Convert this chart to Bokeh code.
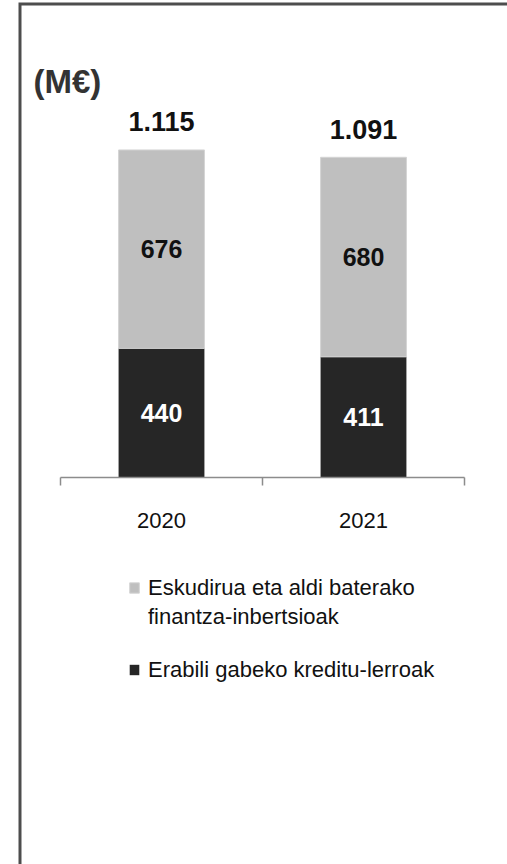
from bokeh.plotting import figure
from bokeh.models import (Range1d, LinearAxis, FixedTicker, Legend, LegendItem,
                          Label, ColumnDataSource)
from bokeh.core.properties import value
from bokeh.embed import file_html
from bokeh.resources import INLINE

# ---- data ----
years = ["2020", "2021"]
credit_lines = [440, 411]          # Erabili gabeko kreditu-lerroak
cash_investments = [676, 680]      # Eskudirua eta aldi baterako finantza-inbertsioak
total_labels = ["1.115", "1.091"]
series_names = ["Eskudirua eta aldi baterako", "finantza-inbertsioak",
                "Erabili gabeko kreditu-lerroak"]
unit_label = "(M€)"

# ---- layout (canvas pixels) ----
W, H = 507, 864
X0 = 60        # canvas x of the first category boundary
CAT_W = 202    # pixels per category
Y0 = 477       # canvas y of value 0
K = 0.2935     # pixels per M€

FONT = "Liberation Sans"
DARK = "#262626"
LIGHT = "#bfbfbf"
AXIS = "#8c8c8c"
TXT = "#111111"


def dx(px):
    return (px - X0) / CAT_W


def dy(py):
    return (Y0 - py) / K


p = figure(width=W, height=H, output_backend="svg", toolbar_location=None,
           x_range=Range1d(dx(0), dx(W)), y_range=Range1d(dy(H), dy(0)),
           min_border=0, x_axis_location=None, y_axis_location=None)
p.outline_line_color = None
p.background_fill_color = "white"
p.border_fill_color = "white"
p.xgrid.visible = False
p.ygrid.visible = False

xs = [i + 0.5 for i in range(len(years))]
tops = [a + b for a, b in zip(credit_lines, cash_investments)]
src = ColumnDataSource(dict(
    x=xs, credit=credit_lines, cash=cash_investments, top=tops,
    credit_mid=[c / 2 for c in credit_lines],
    cash_mid=[c + v / 2 for c, v in zip(credit_lines, cash_investments)],
    credit_txt=[str(v) for v in credit_lines],
    cash_txt=[str(v) for v in cash_investments],
    total_txt=total_labels,
))

BAR_W = 0.425
r_dark = p.vbar(x="x", width=BAR_W, bottom=0, top="credit", source=src,
                fill_color=DARK, line_color=None)
r_light = p.vbar(x="x", width=BAR_W, bottom="credit", top="top", source=src,
                 fill_color=LIGHT, line_color="#d4d4d4", line_width=1)
# invisible renderer, used only for the second line of the first legend entry
r_blank = p.vbar(x=[], width=BAR_W, top=[], fill_alpha=0, line_alpha=0)

p.text(x="x", y="credit_mid", text="credit_txt", source=src,
       text_align="center", text_baseline="middle", text_color="white",
       text_font=value(FONT), text_font_style="bold", text_font_size="25px")
p.text(x="x", y="cash_mid", text="cash_txt", source=src,
       text_align="center", text_baseline="middle", text_color=TXT,
       text_font=value(FONT), text_font_style="bold", text_font_size="25px")
p.text(x="x", y="top", text="total_txt", source=src, y_offset=-28,
       text_align="center", text_baseline="middle", text_color=TXT,
       text_font=value(FONT), text_font_style="bold", text_font_size="27px")

# category axis: line + boundary ticks
ax = LinearAxis(fixed_location=0, ticker=FixedTicker(ticks=[0, 1, 2]),
                bounds=(0, len(years)),
                axis_line_color=AXIS, axis_line_width=1.5,
                major_tick_line_color=AXIS, major_tick_line_width=1.5,
                major_tick_in=0, major_tick_out=8,
                minor_tick_line_color=None, major_label_text_color=None)
p.add_layout(ax, "below")
# category labels at centres
lab = LinearAxis(fixed_location=0, ticker=FixedTicker(ticks=xs),
                 major_label_overrides={x: y for x, y in zip(xs, years)},
                 axis_line_color=None, major_tick_line_color=None,
                 minor_tick_line_color=None, major_tick_in=0, major_tick_out=0,
                 major_label_standoff=35,
                 major_label_text_font=FONT, major_label_text_font_size="22px",
                 major_label_text_color=TXT)
p.add_layout(lab, "below")

p.add_layout(Label(x=dx(33), y=dy(81), text=unit_label, text_baseline="middle",
                   text_font=FONT, text_font_style="bold", text_font_size="33px",
                   text_color="#333333"))

legend_style = dict(orientation="vertical", glyph_width=12, glyph_height=13,
                    label_standoff=8, label_text_font=FONT,
                    label_text_font_size="22px", label_text_color=TXT,
                    label_text_baseline="middle", label_height=29, spacing=0,
                    padding=0, margin=0, border_line_color=None,
                    background_fill_alpha=0)
legend1 = Legend(items=[LegendItem(label=series_names[0], renderers=[r_light]),
                        LegendItem(label=series_names[1], renderers=[r_blank])],
                 location=(128, H - 631), **legend_style)
legend2 = Legend(items=[LegendItem(label=series_names[2], renderers=[r_dark])],
                 location=(128, H - 684), **legend_style)
p.add_layout(legend1)
p.add_layout(legend2)

# frame (left and top border of the surrounding box)
p.line(x=[dx(19.5), dx(19.5), dx(W + 10)], y=[dy(H + 10), dy(3.5), dy(3.5)],
       line_color="#4d4d4d", line_width=3, line_join="miter")

open("out.html", "w").write(file_html(p, INLINE))
